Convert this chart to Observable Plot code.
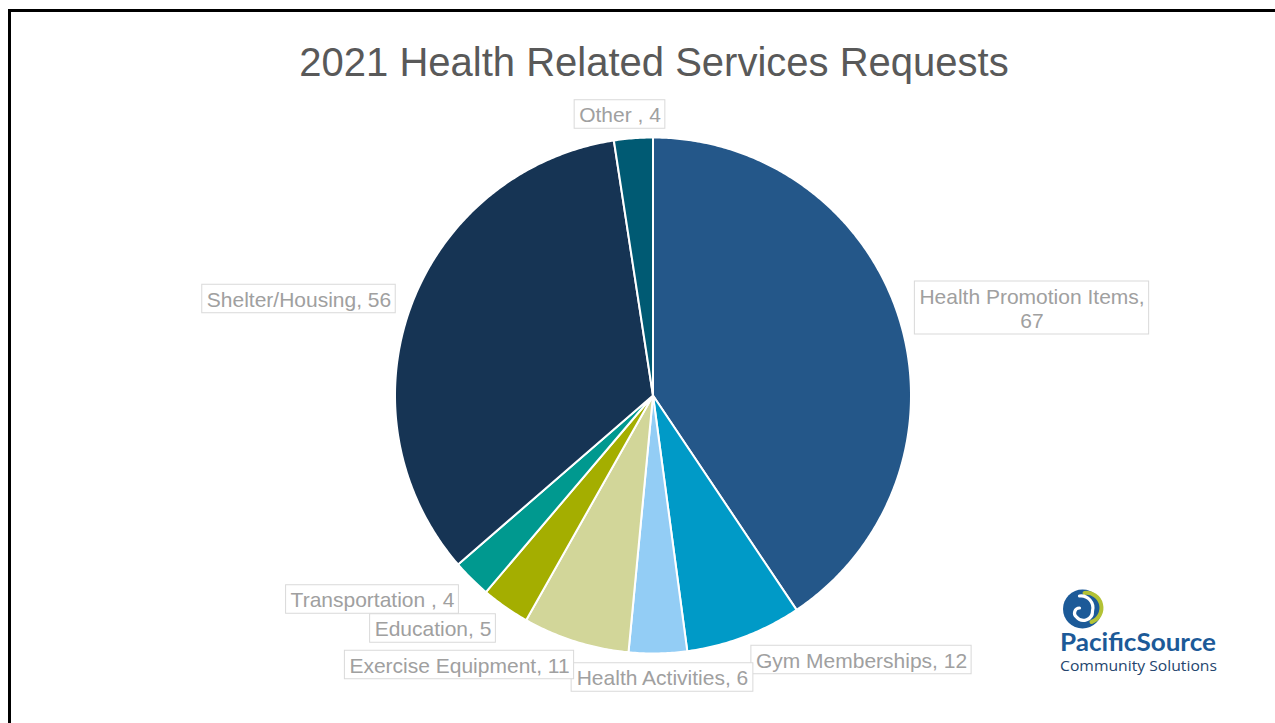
<!DOCTYPE html>
<html>
<head>
<meta charset="utf-8">
<script src="https://cdn.jsdelivr.net/npm/d3@7"></script>
<script src="https://cdn.jsdelivr.net/npm/@observablehq/plot@0.6"></script>
<style>
  html, body { margin: 0; padding: 0; background: #fff; width: 1275px; height: 723px; overflow: hidden; }
  #frame { position: absolute; left: 8px; top: 9px; width: 1280px; height: 720px; border-top: 3px solid #000; border-left: 3px solid #000; }
  #title { position: absolute; left: 0; top: 38px; width: 1308px; text-align: center; font: 40px/48px "Liberation Sans", Arial, sans-serif; color: #595959; white-space: nowrap; }
  #chart { position: absolute; left: 0; top: 90px; }
  #logo { position: absolute; left: 1050px; top: 580px; }
</style>
</head>
<body>
<div id="frame"></div>
<div id="title">2021 Health Related Services Requests</div>
<div id="chart"></div>
<svg id="logo" width="180" height="100" viewBox="0 0 180 100">
  <g transform="translate(32.5,29)">
    <circle r="19.5" fill="#1c5a98"></circle>
    <path d="M 2,-16 A 15 15 0 0 1 9,13" fill="none" stroke="#b3c235" stroke-width="4" stroke-linecap="round"></path>
    <path d="M -3,-13 A 12 12 0 0 1 10,2 A 9 9 0 0 1 -6,8 A 5 5 0 0 1 -3,-1" fill="none" stroke="#ffffff" stroke-width="3.2" stroke-linecap="round"></path>
  </g>
  <text x="10" y="71" textLength="156" lengthAdjust="spacingAndGlyphs" font-family="Lato, 'Open Sans', sans-serif" font-weight="bold" font-size="24" fill="#1c5a98">PacificSource</text>
  <text x="10" y="91" textLength="157" lengthAdjust="spacingAndGlyphs" font-family="'Open Sans', Lato, sans-serif" font-size="15" fill="#24456e">Community Solutions</text>
</svg>
<script>
// ---- data ----
const categories = ["Health Promotion Items", "Gym Memberships", "Health Activities", "Exercise Equipment", "Education", "Transportation ", "Shelter/Housing", "Other "];
const values = [67, 12, 6, 11, 5, 4, 56, 4];
const labelTexts = ["Health Promotion Items,\n67", "Gym Memberships, 12", "Health Activities, 6", "Exercise Equipment, 11", "Education, 5", "Transportation , 4", "Shelter/Housing, 56", "Other , 4"];

// ---- styles / layout ----
const sliceColors = ["#245789", "#009ac7", "#93cdf5", "#d2d699", "#a4ae00", "#00998f", "#163454", "#005a73"];
const labelOffsets = [[379, -87.5], [208.5, 264.5], [9.5, 282], [-193.5, 269.5], [-220, 233], [-280.5, 204], [-354, -96.5], [-33, -281]];
const W = 1275, H = 633, CX = 652.5, CY = 305, R = 258;
const FONT = "Liberation Sans, Arial, sans-serif";
const FS = 21, LH = 24.5, PADX = 4.5;

// ---- slices ----
const arcs = d3.pie().sort(null).startAngle(0).endAngle(2 * Math.PI)(values);
const slicePts = [];
arcs.forEach((a, i) => {
  slicePts.push({name: categories[i], color: sliceColors[i], x: 0, y: 0});
  const n = Math.max(2, Math.ceil((a.endAngle - a.startAngle) / (Math.PI / 360)));
  for (let k = 0; k <= n; k++) {
    const t = a.startAngle + (a.endAngle - a.startAngle) * k / n;
    slicePts.push({name: categories[i], color: sliceColors[i], x: R * Math.sin(t), y: -R * Math.cos(t)});
  }
});

// ---- labels ----
const ctx = document.createElement("canvas").getContext("2d");
ctx.font = `${FS}px ${FONT}`;
const labels = categories.map((c, i) => {
  const lines = labelTexts[i].split("\n");
  const w = d3.max(lines, l => ctx.measureText(l).width);
  const h = lines.length * LH + 4;
  const [x, y] = labelOffsets[i];
  return {name: c, text: labelTexts[i], x, y, x1: x - w / 2 - PADX, x2: x + w / 2 + PADX, y1: y - h / 2, y2: y + h / 2};
});

const chart = Plot.plot({
  width: W, height: H, margin: 0,
  style: {background: "transparent", fontFamily: FONT},
  x: {domain: [-CX, W - CX], range: [0, W], axis: null},
  y: {domain: [-CY, H - CY], range: [0, H], axis: null},
  color: {type: "identity"},
  marks: [
    Plot.line(slicePts, {x: "x", y: "y", z: "name", fill: "color", stroke: "#ffffff", strokeWidth: 2, curve: "linear-closed", strokeLinejoin: "round"}),
    Plot.rect(labels, {x1: "x1", x2: "x2", y1: "y1", y2: "y2", fill: "#ffffff", stroke: "#d9d9d9", strokeWidth: 1}),
    Plot.text(labels, {x: "x", y: "y", text: "text", fontSize: FS, fill: "#a0a0a0", lineHeight: LH / FS, lineAnchor: "middle", textAnchor: "middle"})
  ]
});
document.getElementById("chart").appendChild(chart);
</script>
</body>
</html>
